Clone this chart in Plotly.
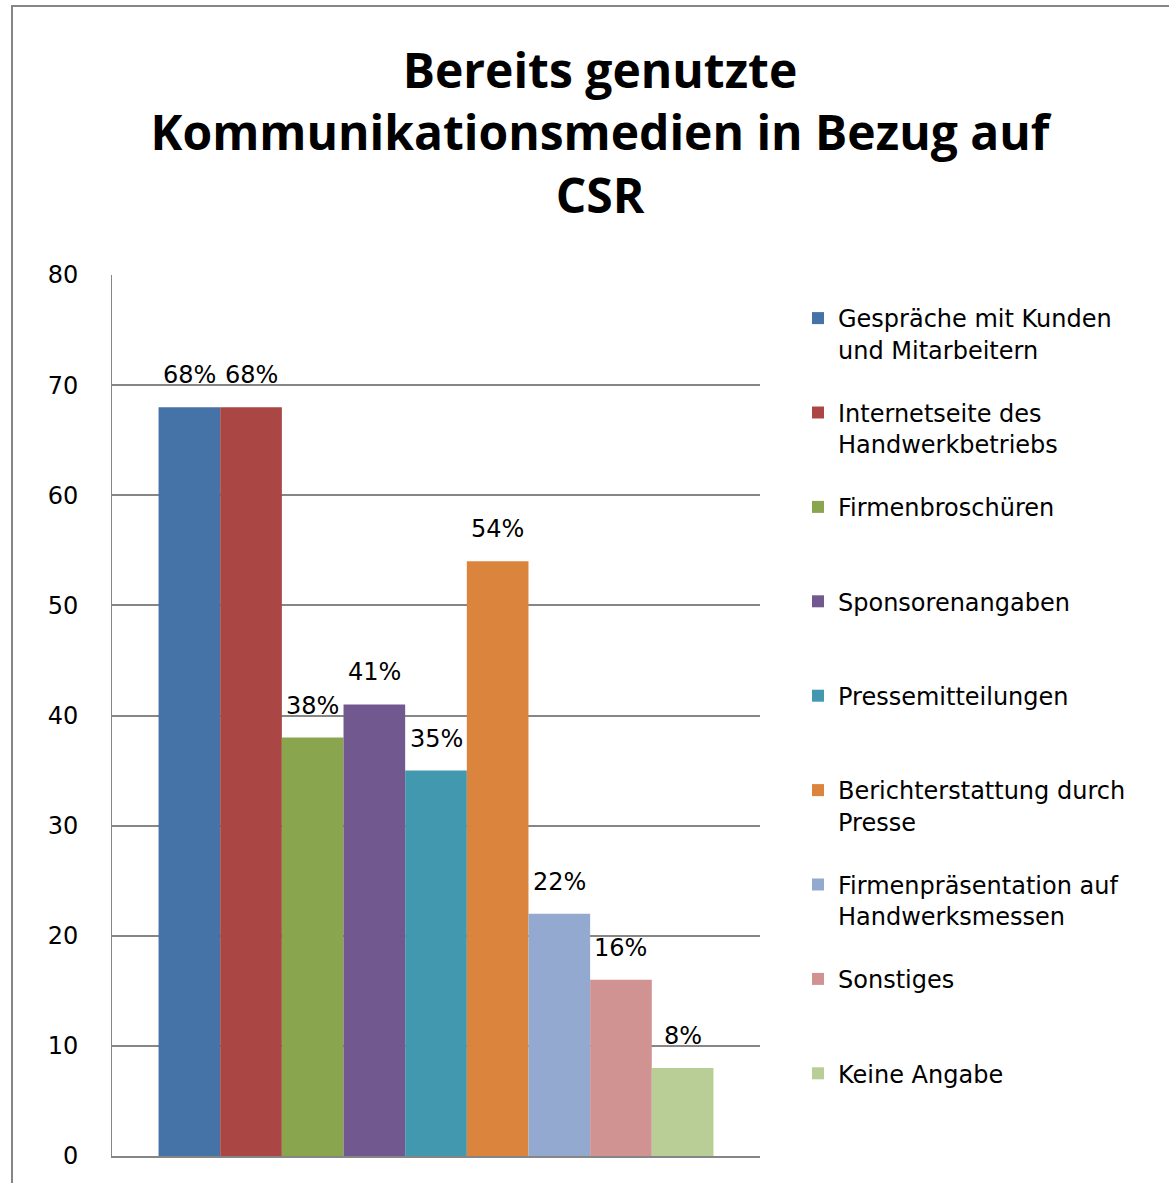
import plotly.graph_objects as go

series_names = [
    "Gespräche mit Kunden<br>und Mitarbeitern",
    "Internetseite des<br>Handwerkbetriebs",
    "Firmenbroschüren<br> ",
    "Sponsorenangaben<br> ",
    "Pressemitteilungen<br> ",
    "Berichterstattung durch<br>Presse",
    "Firmenpräsentation auf<br>Handwerksmessen",
    "Sonstiges<br> ",
    "Keine Angabe<br> ",
]
values = [68, 68, 38, 41, 35, 54, 22, 16, 8]
labels = ["68%", "68%", "38%", "41%", "35%", "54%", "22%", "16%", "8%"]
colors = ["#4572A7", "#AA4643", "#89A54E", "#71588F", "#4198AF",
          "#DB843D", "#93A9CF", "#D19392", "#B9CD96"]
y_ticks = [0, 10, 20, 30, 40, 50, 60, 70, 80]

FONT = "DejaVu Sans"
TFONT = "Open Sans"

fig = go.Figure()
for i, (name, v, c) in enumerate(zip(series_names, values, colors)):
    fig.add_trace(go.Bar(
        x=[i], y=[v], width=[1], name=name,
        marker=dict(color=c, line=dict(width=0)),
        legendgroup=f"g{i}", hoverinfo="name+y",
    ))

annotations = []
for i, (v, t) in enumerate(zip(values, labels)):
    annotations.append(dict(
        x=i, y=v, xref="x", yref="y", text=t, showarrow=False,
        xanchor="center", yanchor="middle", yshift=32,
        font=dict(family=FONT, size=24, color="#000000"),
    ))

W, H = 1169, 1183
L, R, T, B = 112, 409, 275, 27
pw, ph = W - L - R, H - T - B

def px(x):
    return (x - L) / pw

def py(y):
    return (H - B - y) / ph

pad = 0.755
fig.update_layout(
    width=W, height=H,
    margin=dict(l=L, r=R, t=T, b=B, pad=0),
    paper_bgcolor="white", plot_bgcolor="white",
    barmode="overlay",
    font=dict(family=FONT, size=24, color="#000000"),
    title=dict(
        text="<b>Bereits genutzte<br>Kommunikationsmedien in Bezug auf<br>CSR</b>",
        font=dict(family=TFONT, size=48, color="#000000"),
        x=600 / W, xanchor="center", xref="container",
        y=1 - 88 / H, yanchor="middle", yref="container",
    ),
    showlegend=True,
    legend=dict(
        x=px(798), xanchor="left", y=py(296), yanchor="top",
        font=dict(family=FONT, size=24, color="#000000"),
        valign="top", tracegroupgap=29, itemwidth=30,
        bgcolor="rgba(0,0,0,0)",
    ),
    xaxis=dict(
        range=[-0.5 - pad, len(values) - 0.5 + pad],
        showticklabels=False, showgrid=False, zeroline=False,
        showline=True, linecolor="#868686", linewidth=2, fixedrange=True,
    ),
    yaxis=dict(
        range=[0, 80], tickvals=y_ticks, showgrid=True,
        gridcolor="#868686", gridwidth=2, zeroline=False,
        showline=True, linecolor="#868686", linewidth=1,
        ticks="", ticklabelstandoff=28,
        tickfont=dict(family=FONT, size=24, color="#000000"),
    ),
    annotations=annotations,
    shapes=[dict(
        type="rect", xref="paper", yref="paper",
        x0=px(12), x1=px(1190), y0=py(1200), y1=py(6),
        line=dict(color="#868686", width=2), fillcolor="rgba(0,0,0,0)",
        layer="below",
    )],
)

fig.write_html("out.html", config={"displayModeBar": False},
               post_script="document.body.style.margin='0';")
